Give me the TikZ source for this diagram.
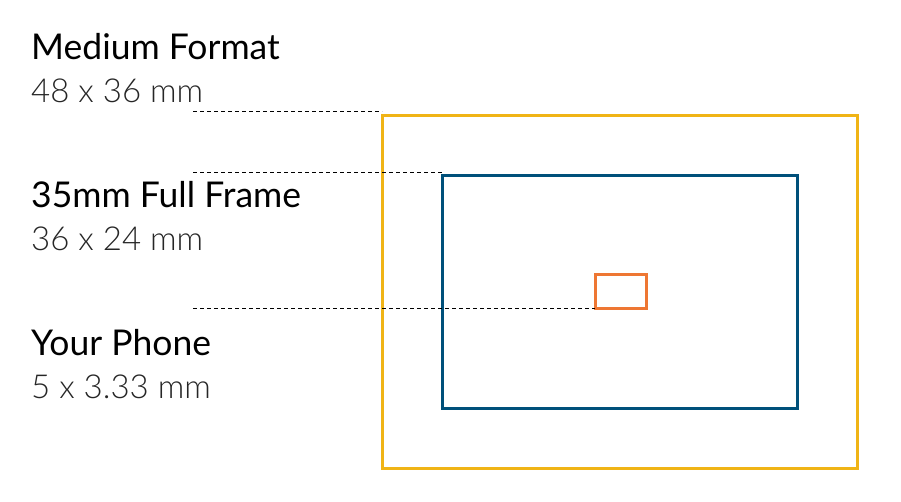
\documentclass[tikz,border=0pt]{standalone}
\usepackage{fontspec}
\setmainfont{Lato}
\newfontfamily\lightf{Lato Light}
\definecolor{yel}{HTML}{F0B416}
\definecolor{blu}{HTML}{00507A}
\definecolor{ora}{HTML}{EE7733}
\begin{document}
\begin{tikzpicture}[x=1pt,y=-1pt,
  ttl/.style={anchor=base west,inner sep=0pt,font=\fontsize{35.5}{40}\selectfont},
  sub/.style={anchor=base west,inner sep=0pt,font=\lightf\fontsize{33}{40}\selectfont,text=black!85},
  dl/.style={dashed,line width=0.8pt,dash pattern=on 4pt off 3pt}]
\useasboundingbox (0,0) rectangle (901,501);
\node[draw=yel,line width=3pt,minimum width=475pt,minimum height=353pt,anchor=north west,outer sep=0pt] (mf) at (382,115) {};
\node[draw=blu,line width=3pt,minimum width=355pt,minimum height=233pt,anchor=north west,outer sep=0pt] (ff) at (442,175) {};
\node[draw=ora,line width=3pt,minimum width=51pt,minimum height=34pt,anchor=north west,outer sep=0pt] (ph) at (595,274) {};
\coordinate (a) at (193,111); \coordinate (b) at (193,172); \coordinate (c) at (193,308);
\draw[dl] (a) -- (mf.north west |- a);
\draw[dl] (b) -- (ff.north west |- b);
\draw[dl] (c) -- (ph.south west |- c);
\node[ttl] (t1) at (31,59) {Medium Format};
\node[sub] (s1) at (31,102) {48 x 36 mm};
\node[ttl] (t2) at (31,207) {35mm Full Frame};
\node[sub] (s2) at (31,250) {36 x 24 mm};
\node[ttl] (t3) at (31,355) {Your Phone};
\node[sub] (s3) at (31,398) {5 x 3.33 mm};
\end{tikzpicture}
\end{document}
